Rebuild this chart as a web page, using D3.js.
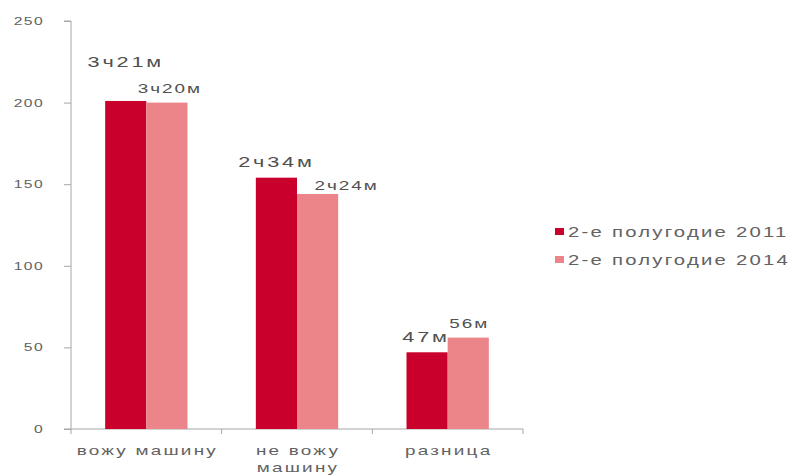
<!DOCTYPE html>
<html><head><meta charset="utf-8">
<script src="https://cdn.jsdelivr.net/npm/d3@7"></script>
<style>body{margin:0;background:#fff}svg{display:block}</style>
</head><body>
<svg id="c" width="792" height="476"></svg>
<script>
const categories = [["вожу машину"], ["не вожу", "машину"], ["разница"]];
const seriesNames = ["2-е полугодие 2011", "2-е полугодие 2014"];
const values2011 = [201, 154, 47];
const values2014 = [200, 144, 56];
const labels2011 = ["3ч21м", "2ч34м", "47м"];
const labels2014 = ["3ч20м", "2ч24м", "56м"];
const yTicks = [0, 50, 100, 150, 200, 250];

const colors = ["#c9002b", "#eb8589"];
const labelOffsets = [
  [[0, -34], [0, -11], [-1, -10]],
  [[3, -10], [29, -4], [1, -10]]
];
const SX = 1.4; // horizontal stretch of the original typeface
const font = "'Liberation Sans', Arial, sans-serif";
const textCol = "#626262";

const svg = d3.select("#c");
const m = {left: 71, right: 269, top: 21, bottom: 47};
const W = 792, H = 476;
const x = d3.scaleBand().domain(d3.range(3)).range([m.left, W - m.right]);
const y = d3.scaleLinear().domain([0, 250]).range([H - m.bottom, m.top]);
const inner = d3.scaleBand().domain([0, 1]).range([0, x.bandwidth()]).paddingOuter(0.83).paddingInner(0);

function stretched(g, cx, cy, txt, size, anchor, ls, fill) {
  return g.append("text").attr("transform", `translate(${cx},${cy}) scale(${SX},1)`)
    .attr("text-anchor", anchor).attr("font-family", font).attr("font-size", size)
    .attr("letter-spacing", ls + "px").attr("fill", fill || textCol).text(txt);
}

// y axis
const ya = svg.append("g").attr("transform", `translate(${m.left},0)`)
  .call(d3.axisLeft(y).tickValues(yTicks).tickSize(7).tickFormat(""));
ya.select(".domain").attr("stroke", "#a6a6a6").attr("d", `M-7,${y(250)}H0V${y(0)}`);
ya.selectAll(".tick line").attr("stroke", "#a6a6a6");
yTicks.forEach(t => stretched(svg, m.left - 27, y(t) + 4, t, 11.2, "end", 1));

// x axis
const xa = svg.append("g").attr("transform", `translate(0,${y(0)})`);
xa.append("line").attr("x1", m.left - 7).attr("x2", W - m.right).attr("stroke", "#a6a6a6");
xa.selectAll("line.t").data(d3.range(4)).join("line").attr("class", "t")
  .attr("x1", i => m.left + i * x.bandwidth()).attr("x2", i => m.left + i * x.bandwidth())
  .attr("y1", 0).attr("y2", 5).attr("stroke", "#a6a6a6");
categories.forEach((lines, i) => {
  lines.forEach((ln, j) => stretched(svg, x(i) + x.bandwidth() / 2 + 1, y(0) + 26 + j * 17, ln, 13.5, "middle", 1.6));
});

const series = [values2011, values2014];
const labs = [labels2011, labels2014];
const labSize = [15.5, 13.5];
const labLs = [2, 1.4];
series.forEach((vals, s) => {
  svg.append("g").selectAll("rect").data(vals).join("rect")
    .attr("x", (d, i) => x(i) + inner(s)).attr("width", inner.bandwidth())
    .attr("y", d => y(d)).attr("height", d => y(0) - y(d)).attr("fill", colors[s]);
  const lg = svg.append("g");
  vals.forEach((d, i) => {
    stretched(lg, x(i) + inner(s) + inner.bandwidth() / 2 + labelOffsets[s][i][0],
      y(d) + labelOffsets[s][i][1], labs[s][i], labSize[s], "middle", labLs[s], "#505050");
  });
});

// legend
const lg = svg.append("g").attr("transform", "translate(555,237)");
seriesNames.forEach((n, i) => {
  lg.append("rect").attr("x", 0).attr("y", i * 28 - 9).attr("width", 9).attr("height", 7).attr("fill", colors[i]);
  stretched(lg, 13, i * 28, n, 14.5, "start", 1.6);
});
</script>
</body></html>
